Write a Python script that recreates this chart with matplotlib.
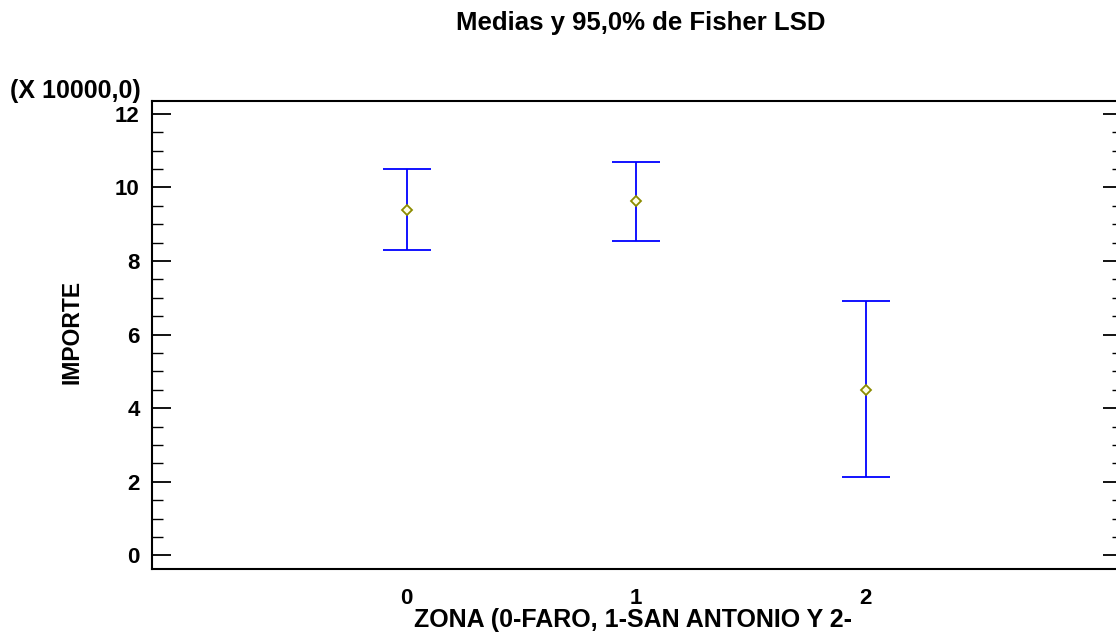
import matplotlib
matplotlib.use("Agg")
import matplotlib.pyplot as plt
from matplotlib.ticker import MultipleLocator

plt.rcParams['font.family'] = ['Liberation Sans', 'DejaVu Sans']

# Group means and 95% Fisher LSD intervals (in units of 10000)
zonas = [0, 1, 2]
medias = [9.39, 9.62, 4.50]
limite_inferior = [8.29, 8.55, 2.13]
limite_superior = [10.50, 10.69, 6.91]
etiquetas_x = ["0", "1", "2"]

W, H = 1116, 639
fig = plt.figure(figsize=(W / 100, H / 100), dpi=100)
ax = fig.add_axes([152 / W, 1 - 569 / H, (1118 - 152) / W, (569 - 101) / H])

err_low = [m - lo for m, lo in zip(medias, limite_inferior)]
err_high = [hi - m for m, hi in zip(medias, limite_superior)]
ax.errorbar(zonas, medias, yerr=[err_low, err_high], fmt='none',
            ecolor='#0000FF', elinewidth=1.3, capsize=17, capthick=1.3, zorder=2)
ax.plot(zonas, medias, linestyle='none', marker='D', markersize=5.2,
        markerfacecolor='#FFFFE8', markeredgecolor='#8C8C00', markeredgewidth=1.3, zorder=3)

ax.set_xlim(-1.109, 3.1)
ax.set_ylim(-0.37, 12.35)
ax.set_xticks(zonas)
ax.set_xticklabels(etiquetas_x)
ax.yaxis.set_major_locator(MultipleLocator(2))
ax.yaxis.set_minor_locator(MultipleLocator(0.5))

ax.tick_params(axis='x', length=0, pad=14, labelsize=16)
ax.tick_params(axis='y', which='major', direction='in', length=13.7, width=1.3,
               labelsize=16, pad=9)
ax.tick_params(axis='y', which='minor', direction='in', length=7.7, width=1.0)
for lbl in ax.get_xticklabels() + ax.get_yticklabels():
    lbl.set_fontweight('bold')

# right-hand tick marks (shorter than the left ones, no labels)
right = ax.secondary_yaxis('right')
right.yaxis.set_major_locator(MultipleLocator(2))
right.yaxis.set_minor_locator(MultipleLocator(0.5))
right.tick_params(axis='y', which='major', direction='in', length=10.8, width=1.3, labelright=False)
right.tick_params(axis='y', which='minor', direction='in', length=4.3, width=1.0)

for s in ax.spines.values():
    s.set_linewidth(1.5)
right.spines['right'].set_linewidth(1.5)

ax.set_xlabel("ZONA (0-FARO, 1-SAN ANTONIO Y 2-", fontsize=18, fontweight='bold')
ax.xaxis.set_label_coords((633 - 152) / (1118 - 152), (569 - 627) / (569 - 101))
ax.xaxis.label.set_va('baseline')
ax.set_ylabel("IMPORTE", fontsize=16.5, fontweight='bold')
ax.yaxis.set_label_coords((72 - 152) / (1118 - 152), (569 - 331.5) / (569 - 101))
ax.yaxis.label.set_va('center')

fig.text(641 / W, 1 - 30 / H, "Medias y 95,0% de Fisher LSD", ha='center', va='baseline',
         fontsize=18.5, fontweight='bold')
fig.text(10 / W, 1 - 98 / H, "(X 10000,0)", ha='left', va='baseline',
         fontsize=18, fontweight='bold')

fig.savefig("out.png", dpi=100)
